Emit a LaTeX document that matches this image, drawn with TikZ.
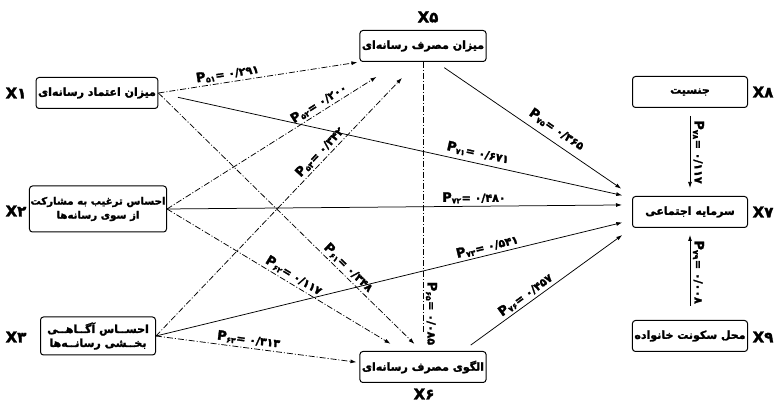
\documentclass[tikz,border=0pt]{standalone}
\usepackage{fontspec}
\setmainfont{DejaVu Sans}
\newfontfamily\farsi[Script=Arabic, BoldFeatures={FakeBold=2}]{DejaVu Sans}
\TeXXeTstate=1
\usetikzlibrary{arrows.meta}
\newcommand{\rtl}[1]{\beginR #1\endR}
\newcommand{\pcoef}[2]{{\fontsize{13}{14}\selectfont P}\textsubscript{#1}= #2}

\begin{document}
\begin{tikzpicture}[x=1pt, y=1pt,
    varbox/.style={draw, line width=1pt, rounded corners=3pt, minimum width=115pt,
        minimum height=31pt, inner sep=2pt, align=center,
        font=\fontsize{11}{14}\farsi\bfseries},
    varname/.style={font=\fontsize{15}{16}\farsi\bfseries},
    coef/.style={font=\fontsize{11}{12}\farsi\bfseries, inner sep=2.5pt},
    direct/.style={line width=0.75pt, -{Latex[length=6pt,width=4pt]}},
    indirect/.style={line width=0.75pt, dash pattern=on 6pt off 2pt on 1pt off 2pt,
        -{Latex[length=6pt,width=4pt]}},
]
    \useasboundingbox (0,0) rectangle (774,403);

    % Independent variables
    \node[varbox] (x1) at (97,310) {\rtl{میزان اعتماد رسانه‌ای}};
    \node[varbox, minimum height=46pt, inner sep=1pt, font=\fontsize{10.2}{14}\farsi\bfseries]
        (x2) at (98,194) {\rtl{احساس ترغیب به مشارکت}\\\rtl{از سوی رسانه‌ها}};
    \node[varbox, minimum height=38pt] (x3) at (98,67)
        {\rtl{احســاس آگــاهــی}\\\rtl{بخــشی رسانــه‌ها}};
    \node[varname] (lx1) at (16,310) {X۱};
    \node[varname] (lx2) at (16,192) {X۲};
    \node[varname] (lx3) at (16,66) {X۳};

    % Media use
    \node[varbox] (x5) at (423,357) {\rtl{میزان مصرف رسانه‌ای}};
    \node[varbox] (x6) at (423,36) {\rtl{الگوی مصرف رسانه‌ای}};
    \node[varname] (lx5) at (428,386) {X۵};
    \node[varname] (lx6) at (424,9) {X۶};

    % Social capital and controls
    \node[varbox] (x8) at (690,311) {\rtl{جنسیت}};
    \node[varbox] (x7) at (690,191) {\rtl{سرمایه اجتماعی}};
    \node[varbox] (x9) at (690,67) {\rtl{محل سکونت خانواده}};
    \node[varname] (lx8) at (763,311) {X۸};
    \node[varname] (lx7) at (763,191) {X۷};
    \node[varname] (lx9) at (763,66) {X۹};

    % Paths to media use (dash-dot)
    \draw[indirect, shorten >=2pt] (x1.east) --
        node[coef, pos=.35, above, sloped] {\pcoef{۵۱}{۰/۲۹۱}} (x5.south west);
    \draw[indirect, shorten >=28pt] (x2.east) --
        node[coef, pos=.67, above, sloped] {\pcoef{۵۲}{۰/۲۰۰}} (x5.215);
    \draw[indirect, shorten >=22pt] (x3.east) --
        node[coef, pos=.65, above, sloped] {\pcoef{۵۳}{۰/۳۴۲}} (x5.250);
    \draw[indirect, shorten >=10pt] (x1.east) --
        node[coef, pos=.7, above, sloped] {\pcoef{۶۱}{۰/۳۴۸}} (x6.95);
    \draw[indirect, shorten >=14pt] (x2.east) --
        node[coef, pos=.52, above, sloped] {\pcoef{۶۲}{۰/۱۱۷}} (x6.142);
    \draw[indirect, shorten >=3pt] (x3.east) --
        node[coef, pos=.45, above, sloped] {\pcoef{۶۳}{۰/۳۱۳}} (x6.176);
    \draw[indirect, -, shorten >=18pt] (x5.south) --
        node[coef, pos=.87, anchor=south, rotate=-90] {\pcoef{۶۵}{۰/۰۸۵}} (x6.north);

    % Paths to social capital (solid)
    \draw[direct, shorten <=20pt, shorten >=10pt] (x1.east) --
        node[coef, pos=.67, above=2pt, sloped] {\pcoef{۷۱}{۰/۶۷۱}} (x7.166);
    \draw[direct, shorten >=10pt] (x2.east) --
        node[coef, pos=.66, above] {\pcoef{۷۲}{۰/۴۸۰}} (x7.173);
    \draw[direct, shorten >=10pt] (x3.east) --
        node[coef, pos=.7, above, sloped] {\pcoef{۷۳}{۰/۵۴۱}} (x7.188);
    \draw[direct, shorten <=10pt, shorten >=13pt] (x5.309) --
        node[coef, pos=.58, above=4pt, sloped] {\pcoef{۷۵}{۰/۳۶۵}} (x7.north west);
    \draw[direct, shorten <=10pt, shorten >=12pt] (x6.22) --
        node[coef, pos=.4, above, sloped] {\pcoef{۷۶}{۰/۴۵۷}} (x7.south west);
    \draw[direct, shorten <=8pt, shorten >=8pt] (x8.south) --
        node[coef, midway, anchor=south, rotate=-90] {\pcoef{۷۸}{۰/۱۱۷}} (x7.north);
    \draw[direct, shorten <=14pt, shorten >=7pt] (x9.north) --
        node[coef, pos=.52, anchor=south, rotate=-90] {\pcoef{۷۹}{۰/۰۰۸}} (x7.south);
\end{tikzpicture}
\end{document}
